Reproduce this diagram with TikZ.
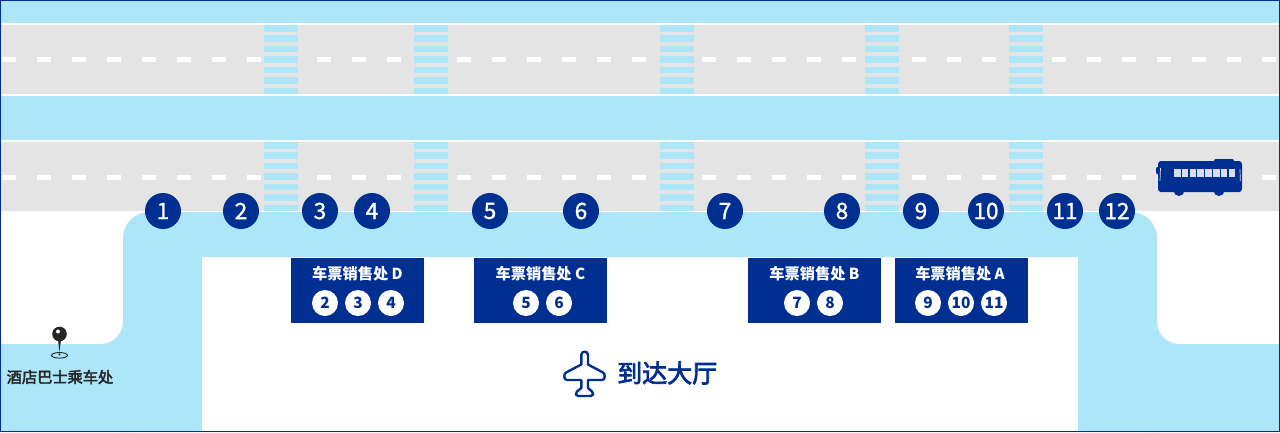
\documentclass[tikz,border=0pt]{standalone}
\usepackage{fontspec}
\setmainfont{Noto Sans CJK SC}
\newfontfamily\heavycjk[FakeBold=1.4]{Noto Sans CJK SC}
\newfontfamily\mediumcjk[FakeBold=3]{Noto Sans CJK SC}
\definecolor{skyblue}{HTML}{ACE6F8}
\definecolor{roadgray}{HTML}{E4E4E4}
\definecolor{navy}{HTML}{002F92}
\definecolor{pinblack}{HTML}{262626}
\definecolor{buswindow}{HTML}{D8DEEE}
\tikzset{
    stopmark/.style={circle,fill=navy,text=white,minimum size=36pt,inner sep=0pt,font=\heavycjk\fontsize{22.5}{22}\selectfont},
    stopsmall/.style={circle,fill=white,text=navy,minimum size=26pt,inner sep=0pt,font=\bfseries\fontsize{15.5}{16}\selectfont},
    salesbox/.style={fill=navy,minimum width=133pt,minimum height=65pt,inner sep=0pt,anchor=north west},
    salestitle/.style={text=white,inner sep=0pt,font=\bfseries\fontsize{15.2}{15}\selectfont},
}
\begin{document}
\begin{tikzpicture}[x=1pt,y=-1pt]
    \useasboundingbox (0,0) rectangle (1280,432);
    \def\boxtop{258}

    \fill[white] (0,0) rectangle (1280,432);
    \fill[skyblue] (0,0) rectangle (1280,212);

    % roads
    \foreach \roadtop/\dashy in {24/59.3,141/177.3}{
        \fill[roadgray] (0,\roadtop) rectangle (1280,\roadtop+71);
        \draw[white,line width=1.2pt] (0,\roadtop) -- (1280,\roadtop);
        \draw[white,line width=1.2pt] (0,\roadtop+71) -- (1280,\roadtop+71);
        \foreach \k in {0,...,36}{
            \fill[white] (2+35*\k,\dashy-2.3) rectangle (16+35*\k,\dashy+2.3);
        }
        \foreach \crossx in {264,414,660,865,1009}{
            \fill[roadgray] (\crossx-3,\roadtop+0.6) rectangle (\crossx+37,\roadtop+70.4);
            \foreach \k in {0,...,6}{
                \fill[skyblue] (\crossx,\roadtop+1+10.45*\k) rectangle (\crossx+34,\roadtop+7.5+10.45*\k);
            }
        }
    }

    % walkway
    \fill[skyblue,rounded corners=26pt] (123,432) [sharp corners] -- (123,300) [rounded corners=26pt] -- (123,212) -- (1157,212) -- (1157,300) [sharp corners] -- (1157,432) -- cycle;
    \fill[skyblue] (0,344) -- (101,344) .. controls (113,344) and (123,334) .. (123,322) -- (130,322) -- (130,432) -- (0,432) -- cycle;
    \fill[skyblue] (1280,344) -- (1179,344) .. controls (1167,344) and (1157,334) .. (1157,322) -- (1150,322) -- (1150,432) -- (1280,432) -- cycle;
    \fill[white] (202,257) rectangle (1078,432);

    % stops on the kerb
    \foreach \n/\stopx in {1/163,2/241,3/320,4/372,5/490,6/581,7/725,8/842,9/921,10/986,11/1065,12/1117}{
        \node[stopmark] (stop\n) at (\stopx,211) {\n};
    }

    % ticket counters
    \node[salesbox] (counterD) at (291,\boxtop) {};
    \node[salesbox] (counterC) at (474,\boxtop) {};
    \node[salesbox] (counterB) at (748,\boxtop) {};
    \node[salesbox] (counterA) at (895,\boxtop) {};
    \node[salestitle] (titleD) at (357.5,274) {车票销售处 D};
    \node[salestitle] (titleC) at (540.5,274) {车票销售处 C};
    \node[salestitle] (titleB) at (814.5,274) {车票销售处 B};
    \node[salestitle] (titleA) at (960,274) {车票销售处 A};
    \foreach \n/\smallx in {2/325,3/358,4/391,5/526,6/559,7/797,8/830,9/928,10/961,11/994}{
        \node[stopsmall] (small\n) at (\smallx,303) {\n};
    }

    % arrivals hall
    \draw[navy,line width=2.4pt,line join=round]
        (581.3,364.5) -- (581.3,355) .. controls (581.3,350.5) and (588,350.5) .. (588,355) -- (588,364.5)
        -- (603,372.5) .. controls (605.5,374) and (605.5,380) .. (602,380) -- (588,380) -- (588,388) -- (592,391.5)
        .. controls (594,393) and (593.5,396) .. (591,396)
        -- (578,396) .. controls (575.5,396) and (575,393) .. (577,391.5) -- (581.3,388) -- (581.3,380) -- (567,380)
        .. controls (563.5,380) and (563.5,374) .. (566,372.5) -- cycle;
    \node[navy,inner sep=0pt,font=\mediumcjk\fontsize{25}{25}\selectfont,anchor=west] (hall) at (617,373) {到达大厅};

    % hotel bus pin
    \fill[pinblack] (57.8,338) -- (59.5,352) -- (61.2,338) -- cycle;
    \draw[pinblack,line width=0.9pt] (59.5,355.3) ellipse (8pt and 2.8pt);
    \fill[pinblack] (59.5,353) -- (58.5,355.3) -- (60.5,355.3) -- cycle;
    \fill[pinblack] (59.5,334) circle (7.3pt);
    \fill[white] (58,331.5) circle (2pt);
    \node[pinblack,inner sep=0pt,font=\mediumcjk\fontsize{15.2}{15}\selectfont] (hotelstop) at (60,377) {酒店巴士乘车处};

    % bus
    \fill[navy,rounded corners=3pt] (1158,192) rectangle (1242,161);
    \fill[navy,rounded corners=2pt] (1214,159) rectangle (1234,165);
    \fill[navy,rounded corners=1pt] (1156,167) rectangle (1160,174);
    \fill[navy] (1179,190.5) circle (5.5pt);
    \fill[navy] (1219,190.5) circle (5.5pt);
    \foreach \k in {0,...,7}{
        \fill[buswindow] (1174+7.8*\k,169) rectangle (1180.5+7.8*\k,177);
    }
    \draw[buswindow,line width=0.7pt] (1160.5,168) -- (1160,181);
    \draw[buswindow,line width=0.7pt] (1240,169) -- (1240.3,181);

    \draw[navy,line width=1pt] (0.5,0.5) rectangle (1279.5,431.5);
\end{tikzpicture}
\end{document}
